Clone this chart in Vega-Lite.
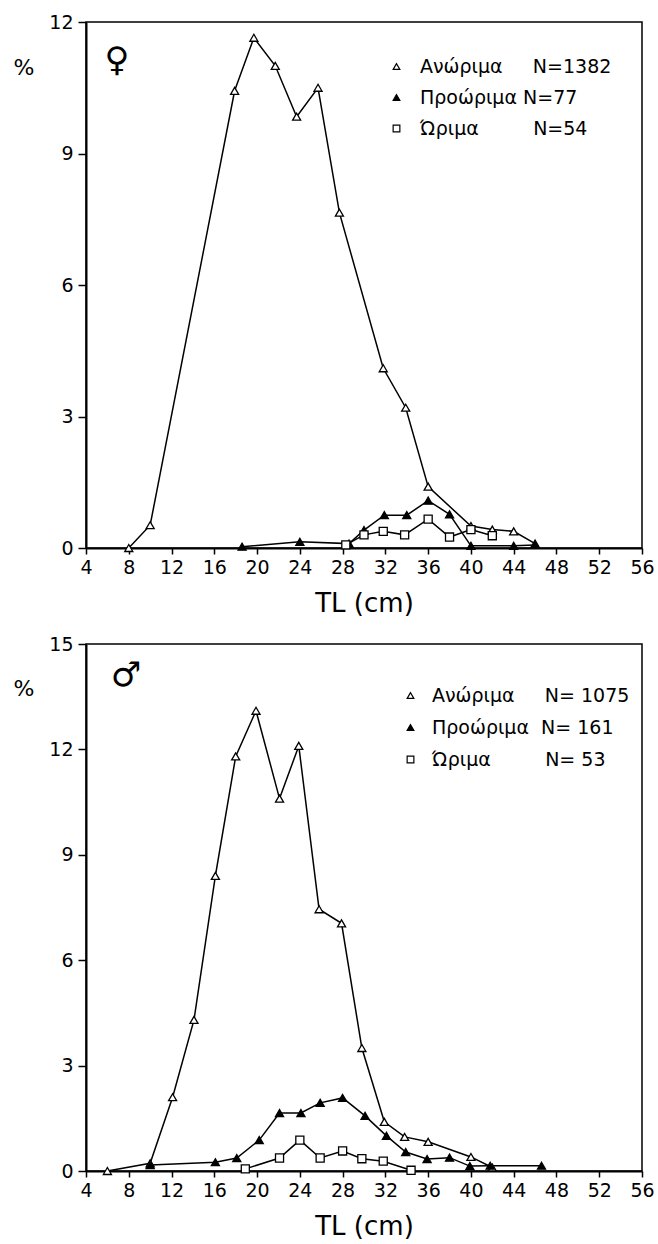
{
  "$schema": "https://vega.github.io/schema/vega-lite/v6.json",
  "background": "white",
  "padding": {"left": 12, "top": 12, "right": 4, "bottom": 4},
  "config": {
    "font": "DejaVu Sans",
    "view": {"stroke": "black", "strokeWidth": 1.5},
    "axis": {
      "grid": false, "domainColor": "black", "domainWidth": 2,
      "tickColor": "black", "tickWidth": 1.5, "tickSize": 6,
      "labelColor": "black", "labelFontSize": 19, "labelFont": "DejaVu Sans", "labelPadding": 4,
      "titleColor": "black", "titleFontWeight": "normal", "titleFont": "DejaVu Sans", "labelFlush": false
    },
    "axisY": {"tickSize": 8, "labelPadding": 5},
    "legend": {
      "labelLimit": 500, "labelFontSize": 19, "labelColor": "black", "labelFont": "DejaVu Sans",
      "symbolStrokeColor": "black", "symbolStrokeWidth": 1.2, "symbolSize": 45, "padding": 0
    }
  },
  "datasets": {
    "female": [
      {"tl": 8, "pct": 0, "stage": "Ανώριμα"},
      {"tl": 10, "pct": 0.52, "stage": "Ανώριμα"},
      {"tl": 17.9, "pct": 10.43, "stage": "Ανώριμα"},
      {"tl": 19.7, "pct": 11.64, "stage": "Ανώριμα"},
      {"tl": 21.7, "pct": 11.0, "stage": "Ανώριμα"},
      {"tl": 23.7, "pct": 9.84, "stage": "Ανώριμα"},
      {"tl": 25.7, "pct": 10.5, "stage": "Ανώριμα"},
      {"tl": 27.7, "pct": 7.65, "stage": "Ανώριμα"},
      {"tl": 31.8, "pct": 4.1, "stage": "Ανώριμα"},
      {"tl": 33.9, "pct": 3.2, "stage": "Ανώριμα"},
      {"tl": 36, "pct": 1.4, "stage": "Ανώριμα"},
      {"tl": 40, "pct": 0.5, "stage": "Ανώριμα"},
      {"tl": 42, "pct": 0.42, "stage": "Ανώριμα"},
      {"tl": 44, "pct": 0.38, "stage": "Ανώριμα"},
      {"tl": 46, "pct": 0.1, "stage": "Ανώριμα"},
      {"tl": 18.6, "pct": 0.03, "stage": "Προώριμα"},
      {"tl": 24, "pct": 0.14, "stage": "Προώριμα"},
      {"tl": 28.6, "pct": 0.1, "stage": "Προώριμα"},
      {"tl": 30, "pct": 0.41, "stage": "Προώριμα"},
      {"tl": 31.9, "pct": 0.75, "stage": "Προώριμα"},
      {"tl": 34, "pct": 0.75, "stage": "Προώριμα"},
      {"tl": 36, "pct": 1.08, "stage": "Προώριμα"},
      {"tl": 38, "pct": 0.77, "stage": "Προώριμα"},
      {"tl": 40, "pct": 0.05, "stage": "Προώριμα"},
      {"tl": 44, "pct": 0.05, "stage": "Προώριμα"},
      {"tl": 46, "pct": 0.07, "stage": "Προώριμα"},
      {"tl": 28.3, "pct": 0.07, "stage": "Ώριμα"},
      {"tl": 30, "pct": 0.3, "stage": "Ώριμα"},
      {"tl": 31.8, "pct": 0.38, "stage": "Ώριμα"},
      {"tl": 33.8, "pct": 0.3, "stage": "Ώριμα"},
      {"tl": 36, "pct": 0.66, "stage": "Ώριμα"},
      {"tl": 38, "pct": 0.25, "stage": "Ώριμα"},
      {"tl": 40, "pct": 0.42, "stage": "Ώριμα"},
      {"tl": 42, "pct": 0.28, "stage": "Ώριμα"}
    ],
    "male": [
      {"tl": 6, "pct": 0, "stage": "Ανώριμα"},
      {"tl": 10, "pct": 0.22, "stage": "Ανώριμα"},
      {"tl": 12.1, "pct": 2.1, "stage": "Ανώριμα"},
      {"tl": 14.1, "pct": 4.3, "stage": "Ανώριμα"},
      {"tl": 16.1, "pct": 8.4, "stage": "Ανώριμα"},
      {"tl": 18, "pct": 11.8, "stage": "Ανώριμα"},
      {"tl": 19.9, "pct": 13.1, "stage": "Ανώριμα"},
      {"tl": 22.1, "pct": 10.6, "stage": "Ανώριμα"},
      {"tl": 23.9, "pct": 12.1, "stage": "Ανώριμα"},
      {"tl": 25.8, "pct": 7.45, "stage": "Ανώριμα"},
      {"tl": 27.9, "pct": 7.05, "stage": "Ανώριμα"},
      {"tl": 29.8, "pct": 3.5, "stage": "Ανώριμα"},
      {"tl": 31.9, "pct": 1.4, "stage": "Ανώριμα"},
      {"tl": 33.8, "pct": 0.97, "stage": "Ανώριμα"},
      {"tl": 36, "pct": 0.83, "stage": "Ανώριμα"},
      {"tl": 40, "pct": 0.4, "stage": "Ανώριμα"},
      {"tl": 42, "pct": 0.1, "stage": "Ανώριμα"},
      {"tl": 10, "pct": 0.17, "stage": "Προώριμα"},
      {"tl": 16.1, "pct": 0.25, "stage": "Προώριμα"},
      {"tl": 18.1, "pct": 0.37, "stage": "Προώριμα"},
      {"tl": 20.2, "pct": 0.88, "stage": "Προώριμα"},
      {"tl": 22.1, "pct": 1.65, "stage": "Προώριμα"},
      {"tl": 24.1, "pct": 1.65, "stage": "Προώριμα"},
      {"tl": 25.9, "pct": 1.94, "stage": "Προώριμα"},
      {"tl": 28, "pct": 2.08, "stage": "Προώριμα"},
      {"tl": 30.1, "pct": 1.57, "stage": "Προώριμα"},
      {"tl": 32.1, "pct": 1.0, "stage": "Προώριμα"},
      {"tl": 33.9, "pct": 0.54, "stage": "Προώριμα"},
      {"tl": 35.9, "pct": 0.34, "stage": "Προώριμα"},
      {"tl": 38, "pct": 0.38, "stage": "Προώριμα"},
      {"tl": 39.9, "pct": 0.14, "stage": "Προώριμα"},
      {"tl": 41.8, "pct": 0.15, "stage": "Προώριμα"},
      {"tl": 46.6, "pct": 0.15, "stage": "Προώριμα"},
      {"tl": 18.9, "pct": 0.06, "stage": "Ώριμα"},
      {"tl": 22.1, "pct": 0.37, "stage": "Ώριμα"},
      {"tl": 24, "pct": 0.88, "stage": "Ώριμα"},
      {"tl": 25.9, "pct": 0.37, "stage": "Ώριμα"},
      {"tl": 28, "pct": 0.57, "stage": "Ώριμα"},
      {"tl": 29.8, "pct": 0.35, "stage": "Ώριμα"},
      {"tl": 31.8, "pct": 0.28, "stage": "Ώριμα"},
      {"tl": 34.4, "pct": 0.02, "stage": "Ώριμα"}
    ],
    "sexF": [{"tl": 6.9, "pct": 11.1, "sym": "♀"}],
    "sexM": [{"tl": 7.75, "pct": 14.1, "sym": "♂"}]
  },
  "spacing": 17,
  "resolve": {
    "scale": {"x": "independent", "y": "independent", "shape": "independent", "fill": "independent", "stroke": "independent"},
    "legend": {"shape": "independent", "fill": "independent", "stroke": "independent"}
  },
  "vconcat": [
    {
      "width": 556,
      "height": 526,
      "layer": [
        {
          "data": {"name": "female"},
          "mark": {"type": "line", "color": "black", "strokeWidth": 1.5},
          "encoding": {
            "x": {"field": "tl", "type": "quantitative", "scale": {"domain": [4, 56], "nice": false},
                  "axis": {"values": [4, 8, 12, 16, 20, 24, 28, 32, 36, 40, 44, 48, 52, 56], "title": "TL (cm)", "titleFontSize": 26, "titlePadding": 13}},
            "y": {"field": "pct", "type": "quantitative", "scale": {"domain": [0, 12], "nice": false},
                  "axis": {"values": [0, 3, 6, 9, 12], "title": "%", "titleAngle": 0, "titleAlign": "left", "titleBaseline": "middle", "titleX": -73, "titleY": 45, "titleFontSize": 22}},
            "detail": {"field": "stage", "type": "nominal"}
          }
        },
        {
          "data": {"name": "female"},
          "mark": {"type": "point", "filled": true, "strokeWidth": 1.3, "opacity": 1, "size": 65},
          "encoding": {
            "x": {"field": "tl", "type": "quantitative"},
            "y": {"field": "pct", "type": "quantitative"},
            "shape": {"field": "stage", "type": "nominal",
              "scale": {"domain": ["Ανώριμα", "Προώριμα", "Ώριμα"], "range": ["triangle-up", "triangle-up", "square"]},
              "legend": {"title": null, "orient": "none", "legendX": 301, "legendY": 35,
                "labelExpr": "datum.label == 'Ανώριμα' ? 'Ανώριμα\u00a0\u00a0\u00a0\u00a0\u00a0N=1382' : datum.label == 'Προώριμα' ? 'Προώριμα\u00a0N=77' : 'Ώριμα\u00a0\u00a0\u00a0\u00a0\u00a0\u00a0\u00a0\u00a0\u00a0N=54'",
                "rowPadding": 11, "labelOffset": 14}},
            "fill": {"field": "stage", "type": "nominal",
              "scale": {"domain": ["Ανώριμα", "Προώριμα", "Ώριμα"], "range": ["white", "black", "white"]},
              "legend": {"title": null, "orient": "none", "legendX": 301, "legendY": 35,
                "labelExpr": "datum.label == 'Ανώριμα' ? 'Ανώριμα\u00a0\u00a0\u00a0\u00a0\u00a0N=1382' : datum.label == 'Προώριμα' ? 'Προώριμα\u00a0N=77' : 'Ώριμα\u00a0\u00a0\u00a0\u00a0\u00a0\u00a0\u00a0\u00a0\u00a0N=54'",
                "rowPadding": 11, "labelOffset": 14}},
            "stroke": {"field": "stage", "type": "nominal",
              "scale": {"domain": ["Ανώριμα", "Προώριμα", "Ώριμα"], "range": ["black", "black", "black"]},
              "legend": {"title": null, "orient": "none", "legendX": 301, "legendY": 35,
                "labelExpr": "datum.label == 'Ανώριμα' ? 'Ανώριμα\u00a0\u00a0\u00a0\u00a0\u00a0N=1382' : datum.label == 'Προώριμα' ? 'Προώριμα\u00a0N=77' : 'Ώριμα\u00a0\u00a0\u00a0\u00a0\u00a0\u00a0\u00a0\u00a0\u00a0N=54'",
                "rowPadding": 11, "labelOffset": 14}}
          }
        },
        {
          "data": {"name": "sexF"},
          "mark": {"type": "text", "fontSize": 34, "font": "DejaVu Sans", "color": "black"},
          "encoding": {
            "x": {"field": "tl", "type": "quantitative"},
            "y": {"field": "pct", "type": "quantitative"},
            "text": {"field": "sym"}
          }
        }
      ]
    },
    {
      "width": 556,
      "height": 527,
      "layer": [
        {
          "data": {"name": "male"},
          "mark": {"type": "line", "color": "black", "strokeWidth": 1.5},
          "encoding": {
            "x": {"field": "tl", "type": "quantitative", "scale": {"domain": [4, 56], "nice": false},
                  "axis": {"values": [4, 8, 12, 16, 20, 24, 28, 32, 36, 40, 44, 48, 52, 56], "title": "TL (cm)", "titleFontSize": 26, "titlePadding": 13}},
            "y": {"field": "pct", "type": "quantitative", "scale": {"domain": [0, 15], "nice": false},
                  "axis": {"values": [0, 3, 6, 9, 12, 15], "title": "%", "titleAngle": 0, "titleAlign": "left", "titleBaseline": "middle", "titleX": -73, "titleY": 44, "titleFontSize": 22}},
            "detail": {"field": "stage", "type": "nominal"}
          }
        },
        {
          "data": {"name": "male"},
          "mark": {"type": "point", "filled": true, "strokeWidth": 1.3, "opacity": 1, "size": 65},
          "encoding": {
            "x": {"field": "tl", "type": "quantitative"},
            "y": {"field": "pct", "type": "quantitative"},
            "shape": {"field": "stage", "type": "nominal",
              "scale": {"domain": ["Ανώριμα", "Προώριμα", "Ώριμα"], "range": ["triangle-up", "triangle-up", "square"]},
              "legend": {"title": null, "orient": "none", "legendX": 315, "legendY": 42,
                "labelExpr": "datum.label == 'Ανώριμα' ? 'Ανώριμα\u00a0\u00a0\u00a0\u00a0\u00a0N= 1075' : datum.label == 'Προώριμα' ? 'Προώριμα\u00a0\u00a0N= 161' : 'Ώριμα\u00a0\u00a0\u00a0\u00a0\u00a0\u00a0\u00a0\u00a0\u00a0N= 53'",
                "rowPadding": 12, "labelOffset": 12}},
            "fill": {"field": "stage", "type": "nominal",
              "scale": {"domain": ["Ανώριμα", "Προώριμα", "Ώριμα"], "range": ["white", "black", "white"]},
              "legend": {"title": null, "orient": "none", "legendX": 315, "legendY": 42,
                "labelExpr": "datum.label == 'Ανώριμα' ? 'Ανώριμα\u00a0\u00a0\u00a0\u00a0\u00a0N= 1075' : datum.label == 'Προώριμα' ? 'Προώριμα\u00a0\u00a0N= 161' : 'Ώριμα\u00a0\u00a0\u00a0\u00a0\u00a0\u00a0\u00a0\u00a0\u00a0N= 53'",
                "rowPadding": 12, "labelOffset": 12}},
            "stroke": {"field": "stage", "type": "nominal",
              "scale": {"domain": ["Ανώριμα", "Προώριμα", "Ώριμα"], "range": ["black", "black", "black"]},
              "legend": {"title": null, "orient": "none", "legendX": 315, "legendY": 42,
                "labelExpr": "datum.label == 'Ανώριμα' ? 'Ανώριμα\u00a0\u00a0\u00a0\u00a0\u00a0N= 1075' : datum.label == 'Προώριμα' ? 'Προώριμα\u00a0\u00a0N= 161' : 'Ώριμα\u00a0\u00a0\u00a0\u00a0\u00a0\u00a0\u00a0\u00a0\u00a0N= 53'",
                "rowPadding": 12, "labelOffset": 12}}
          }
        },
        {
          "data": {"name": "sexM"},
          "mark": {"type": "text", "fontSize": 34, "font": "DejaVu Sans", "color": "black"},
          "encoding": {
            "x": {"field": "tl", "type": "quantitative"},
            "y": {"field": "pct", "type": "quantitative"},
            "text": {"field": "sym"}
          }
        }
      ]
    }
  ]
}
